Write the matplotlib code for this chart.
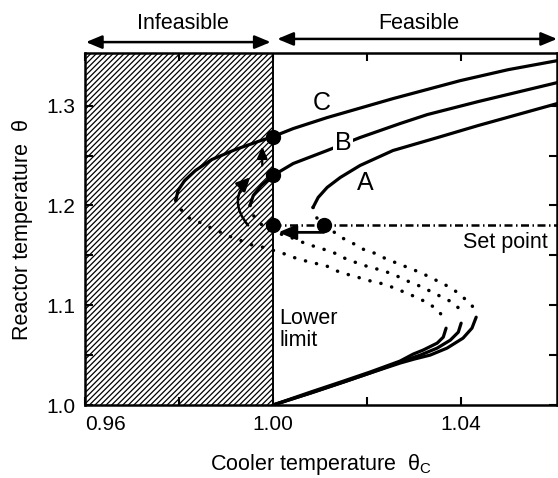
import matplotlib.pyplot as plt
from matplotlib.transforms import blended_transform_factory

plt.rcParams['font.family'] = ['Liberation Sans', 'DejaVu Sans']
plt.rcParams['mathtext.fontset'] = 'custom'
plt.rcParams['mathtext.rm'] = 'Liberation Sans'
plt.rcParams['hatch.linewidth'] = 0.9

# steady-state curves, cooler temperature vs reactor temperature
# upper (stable) branches
a_up_x = [1.0085, 1.0096, 1.0115, 1.0143, 1.0185, 1.0255, 1.0350, 1.0436, 1.0520, 1.0604]
a_up_y = [1.198, 1.208, 1.218, 1.228, 1.240, 1.255, 1.268, 1.280, 1.291, 1.302]
b_up_x = [0.9951, 0.9958, 0.9975, 1.0000, 1.0043, 1.0115, 1.0185, 1.0270, 1.0328, 1.0436, 1.0604]
b_up_y = [1.200, 1.210, 1.220, 1.230, 1.242, 1.255, 1.268, 1.282, 1.291, 1.304, 1.323]
c_up_x = [0.9793, 0.9798, 0.9812, 0.9835, 0.9870, 0.9920, 0.9968, 1.0000, 1.0043, 1.0115,
          1.0255, 1.0398, 1.0500, 1.0604]
c_up_y = [1.205, 1.215, 1.225, 1.235, 1.246, 1.256, 1.264, 1.269, 1.277, 1.288,
          1.307, 1.325, 1.336, 1.345]

# middle (unstable) branches
a_mid_x = [1.0085, 1.0092, 1.0109, 1.0149, 1.0174, 1.0196, 1.0217, 1.0238, 1.0264, 1.0291,
           1.0317, 1.0338, 1.0360, 1.0383, 1.0404, 1.0423, 1.0432]
a_mid_y = [1.198, 1.188, 1.180, 1.167, 1.161, 1.155, 1.152, 1.147, 1.142, 1.137,
           1.132, 1.127, 1.122, 1.116, 1.108, 1.100, 1.090]
b_mid_x = [0.9951, 0.9958, 0.9975, 1.0000, 1.0043, 1.0068, 1.0094, 1.0115, 1.0132, 1.0157,
           1.0181, 1.0206, 1.0232, 1.0255, 1.0274, 1.0296, 1.0319, 1.0338, 1.0360, 1.0381,
           1.0395, 1.0400]
b_mid_y = [1.200, 1.190, 1.181, 1.174, 1.167, 1.162, 1.158, 1.155, 1.152, 1.146,
           1.142, 1.138, 1.135, 1.131, 1.127, 1.122, 1.118, 1.113, 1.108, 1.103,
           1.097, 1.091]
c_mid_x = [0.9793, 0.9802, 0.9819, 0.9849, 0.9870, 0.9913, 0.9936, 0.9957, 0.9979, 1.0000,
           1.0021, 1.0043, 1.0064, 1.0089, 1.0111, 1.0132, 1.0149, 1.0174, 1.0200, 1.0221,
           1.0243, 1.0264, 1.0285, 1.0309, 1.0330, 1.0351, 1.0366]
c_mid_y = [1.205, 1.197, 1.188, 1.182, 1.177, 1.168, 1.164, 1.160, 1.158, 1.155,
           1.152, 1.148, 1.145, 1.142, 1.140, 1.135, 1.132, 1.129, 1.125, 1.123,
           1.120, 1.116, 1.112, 1.107, 1.102, 1.095, 1.085]

# lower (stable) branches
a_low_x = [1.0000, 1.0080, 1.0150, 1.0206, 1.0270, 1.0300, 1.0334, 1.0370, 1.0404, 1.0423, 1.0432]
a_low_y = [1.000, 1.012, 1.023, 1.032, 1.042, 1.046, 1.050, 1.057, 1.067, 1.077, 1.088]
b_low_x = [1.0000, 1.0080, 1.0150, 1.0206, 1.0270, 1.0313, 1.0349, 1.0377, 1.0394, 1.0400]
b_low_y = [1.000, 1.012, 1.023, 1.032, 1.043, 1.050, 1.057, 1.065, 1.073, 1.082]
c_low_x = [1.0000, 1.0080, 1.0150, 1.0206, 1.0270, 1.0298, 1.0319, 1.0349, 1.0362, 1.0368]
c_low_y = [1.000, 1.013, 1.024, 1.033, 1.044, 1.051, 1.055, 1.062, 1.068, 1.077]

# operating points
point_x = [1.0000, 1.0000, 1.0000, 1.0109]
point_y = [1.269, 1.230, 1.180, 1.180]
set_point = 1.180
lower_limit = 1.00

fig = plt.figure(figsize=(5.58, 4.78), dpi=100)
ax = fig.add_axes([0.1523, 0.1527, 0.846, 0.7364])

# infeasible region
ax.axvspan(0.96, lower_limit, facecolor='none', edgecolor='black', hatch='//////', lw=0, zorder=0)
ax.axvline(lower_limit, color='black', lw=1.4, zorder=1)

solid = dict(color='black', lw=2.3, solid_capstyle='round', zorder=3)
dotted = dict(color='black', lw=2.5, linestyle=(0, (0.05, 3.2)), dash_capstyle='round', zorder=3)

for xs, ys in [(a_up_x, a_up_y), (b_up_x, b_up_y), (c_up_x, c_up_y),
               (a_low_x, a_low_y), (b_low_x, b_low_y), (c_low_x, c_low_y)]:
    ax.plot(xs, ys, **solid)
for xs, ys in [(a_mid_x, a_mid_y), (b_mid_x, b_mid_y), (c_mid_x, c_mid_y)]:
    ax.plot(xs, ys, **dotted)

ax.plot([lower_limit, 1.0604], [set_point, set_point], color='black', lw=1.8,
        linestyle=(0, (3.2, 1.4, 0.6, 1.4)), zorder=2)
ax.plot(point_x, point_y, 'o', color='black', ms=10, zorder=5)

# jumps between curves
ax.annotate('', xy=(1.0011, 1.173), xytext=(1.0108, 1.173),
            arrowprops=dict(arrowstyle='-|>,head_length=0.6,head_width=0.25', color='black',
                            lw=2, mutation_scale=18, shrinkA=0, shrinkB=0), zorder=6)
ax.annotate('', xy=(0.9951, 1.228), xytext=(0.9947, 1.180),
            arrowprops=dict(arrowstyle='-|>,head_length=0.5,head_width=0.25', color='black',
                            lw=1.8, mutation_scale=16, shrinkA=0, shrinkB=0,
                            connectionstyle='arc3,rad=-0.45'), zorder=6)
ax.annotate('', xy=(0.9977, 1.259), xytext=(0.9977, 1.240),
            arrowprops=dict(arrowstyle='-|>,head_length=0.5,head_width=0.22', color='black',
                            lw=1.6, mutation_scale=14, shrinkA=0, shrinkB=0), zorder=6)

lab = dict(fontsize=18, ha='center', va='center', zorder=7)
ax.text(1.0104, 1.303, 'C', **lab)
ax.text(1.0149, 1.263, 'B', bbox=dict(fc='white', ec='none', pad=1), **lab)
ax.text(1.0196, 1.222, 'A', **lab)
ax.text(1.0404, 1.163, 'Set point', fontsize=15.5, ha='left', va='center')
ax.text(1.0013, 1.076, 'Lower\nlimit', fontsize=15.5, ha='left', va='center', linespacing=1.05)

# feasibility arrows above the axes
trans = blended_transform_factory(ax.transData, ax.transAxes)
arr = dict(arrowstyle='<|-|>,head_length=0.6,head_width=0.25', color='black', lw=1.8,
           mutation_scale=16, shrinkA=0, shrinkB=0)
ax.annotate('', xy=(0.9602, 1.031), xytext=(0.9995, 1.031), xycoords=trans,
            arrowprops=arr, annotation_clip=False)
ax.annotate('', xy=(1.0009, 1.040), xytext=(1.0604, 1.040), xycoords=trans,
            arrowprops=arr, annotation_clip=False)
ax.text(0.9809, 1.085, 'Infeasible', transform=trans, fontsize=15.5, ha='center', va='center')
ax.text(1.0309, 1.085, 'Feasible', transform=trans, fontsize=15.5, ha='center', va='center')

ax.set_xlim(0.96, 1.0604)
ax.set_ylim(1.0, 1.3527)
ax.set_xticks([0.96, 0.98, 1.00, 1.02, 1.04])
ax.set_xticklabels(['0.96', '', '1.00', '', '1.04'])
ax.set_yticks([1.0, 1.05, 1.1, 1.15, 1.2, 1.25, 1.3])
ax.set_yticklabels(['1.0', '', '1.1', '', '1.2', '', '1.3'])
ax.tick_params(direction='in', top=True, right=True, length=6, width=1.5, labelsize=15, pad=7)
ax.get_xticklabels()[0].set_horizontalalignment('left')
for s in ax.spines.values():
    s.set_linewidth(1.8)

ax.set_xlabel('Cooler temperature  θ$_\\mathrm{C}$', fontsize=15.5)
ax.xaxis.set_label_coords(0.5, -0.17)
ax.xaxis.label.set_va('center')
ax.set_ylabel('Reactor temperature  θ', fontsize=15.5)
ax.yaxis.set_label_coords(-0.133, 0.5)
ax.yaxis.label.set_va('center')

fig.savefig('out.png', dpi=100)
